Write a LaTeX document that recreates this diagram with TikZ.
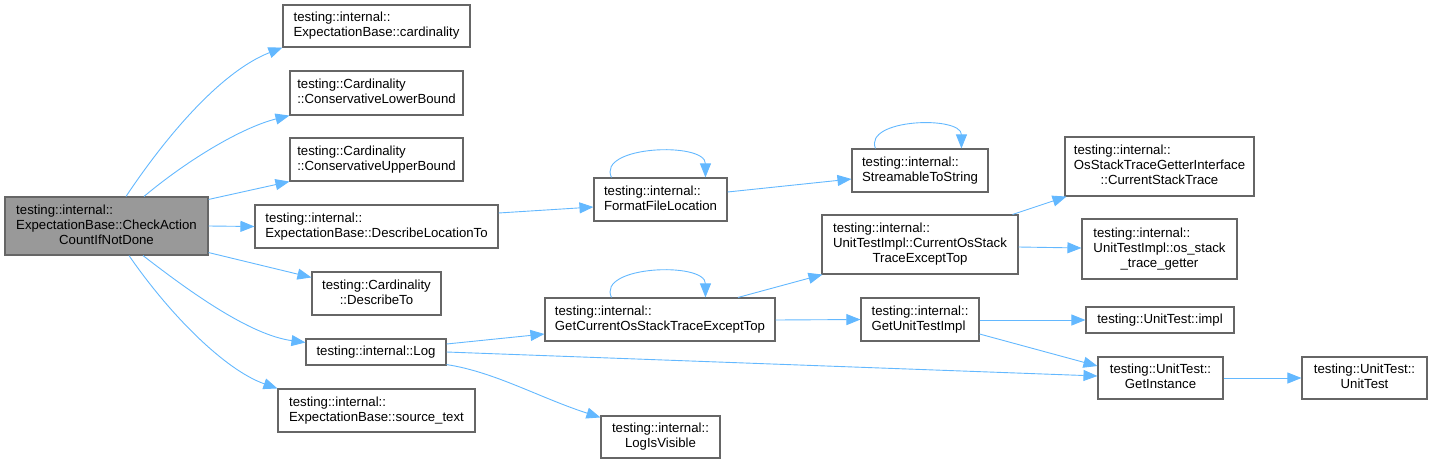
\documentclass[tikz,border=0pt]{standalone}
\usepackage{fontspec}
\setmainfont{Liberation Sans}
\usetikzlibrary{arrows.meta,calc}
\newcommand\ctrline[1]{\multicolumn{1}{@{}c@{}}{#1}}
\newcommand\lines[1]{\begin{tabular}{@{}l@{}}#1\end{tabular}}
\definecolor{edgec}{HTML}{63B8FF}
\definecolor{boxc}{HTML}{666666}
\definecolor{mainfill}{HTML}{999999}
\begin{document}
\begin{tikzpicture}[x=1pt,y=-1pt,
  fn/.style={draw=boxc,line width=1.1pt,fill=white,inner sep=0pt,font=\fontsize{13.2}{15}\selectfont},
  mainfn/.style={fn,fill=mainfill},
  edge/.style={draw=edgec,line width=0.9pt,-{Triangle[length=14pt,width=11pt]}}]
\useasboundingbox (0,0) rectangle (1433,464);
% nodes
\node[mainfn,minimum width=203,minimum height=58] (main) at (106.5,226) {\lines{testing::internal::\\ExpectationBase::CheckAction\\\ctrline{CountIfNotDone}}};
\node[fn,minimum width=187,minimum height=42] (card) at (376.5,26) {\lines{testing::internal::\\ExpectationBase::cardinality}};
\node[fn,minimum width=173,minimum height=44] (lower) at (376.5,93) {\lines{testing::Cardinality\\::ConservativeLowerBound}};
\node[fn,minimum width=173,minimum height=43] (upper) at (376.5,159.5) {\lines{testing::Cardinality\\::ConservativeUpperBound}};
\node[fn,minimum width=243,minimum height=43] (dloc) at (376.5,226.5) {\lines{testing::internal::\\ExpectationBase::DescribeLocationTo}};
\node[fn,minimum width=129,minimum height=43] (dto) at (376.5,293.5) {\lines{testing::Cardinality\\\ctrline{::DescribeTo}}};
\node[fn,minimum width=140,minimum height=26] (log) at (376,352) {testing::internal::Log};
\node[fn,minimum width=197,minimum height=43] (src) at (376.5,410.5) {\lines{testing::internal::\\ExpectationBase::source\_text}};
\node[fn,minimum width=133,minimum height=43] (ffl) at (660.5,199.5) {\lines{testing::internal::\\FormatFileLocation}};
\node[fn,minimum width=230,minimum height=43] (gcos) at (660,319.5) {\lines{testing::internal::\\GetCurrentOsStackTraceExceptTop}};
\node[fn,minimum width=119,minimum height=42] (lvis) at (660.5,437) {\lines{testing::internal::\\\ctrline{LogIsVisible}}};
\node[fn,minimum width=136,minimum height=43] (sts) at (920,170.5) {\lines{testing::internal::\\StreamableToString}};
\node[fn,minimum width=196,minimum height=59] (cost) at (920,244.5) {\lines{testing::internal::\\UnitTestImpl::CurrentOsStack\\\ctrline{TraceExceptTop}}};
\node[fn,minimum width=118,minimum height=43] (gut) at (920,319.5) {\lines{testing::internal::\\GetUnitTestImpl}};
\node[fn,minimum width=189,minimum height=59] (ostg) at (1159.5,166.5) {\lines{testing::internal::\\OsStackTraceGetterInterface\\\ctrline{::CurrentStackTrace}}};
\node[fn,minimum width=155,minimum height=60] (osg) at (1159.5,249) {\lines{testing::internal::\\UnitTestImpl::os\_stack\\\ctrline{\_trace\_getter}}};
\node[fn,minimum width=148,minimum height=26] (impl) at (1160,320) {testing::UnitTest::impl};
\node[fn,minimum width=125,minimum height=42] (ginst) at (1160.5,378) {\lines{testing::UnitTest::\\\ctrline{GetInstance}}};
\node[fn,minimum width=125,minimum height=42] (ut) at (1364.5,378) {\lines{testing::UnitTest::\\\ctrline{UnitTest}}};
% edges from main
\draw[edge] ($(main.north)+(19.5,0)$) .. controls (165,138) and (220,72) .. (card.south west);
\draw[edge] ($(main.north)+(37.5,0)$) .. controls (185,162) and (240,128) .. (lower.south west);
\draw[edge] ($(main.north east)+(0,3)$) -- (upper.south west);
\draw[edge] (main.east) -- (dloc.west);
\draw[edge] ($(main.south east)+(0,-3)$) -- ($(dto.north west)+(0,6)$);
\draw[edge] ($(main.south)+(36.5,0)$) .. controls (190,292) and (250,335) .. ($(log.north west)+(0,4)$);
\draw[edge] ($(main.south)+(22.5,0)$) .. controls (170,315) and (225,370) .. ($(src.north west)+(0,0)$);
% other edges
\draw[edge] ($(dloc.east)+(0,-13.5)$) -- ($(ffl.west)+(0,7.5)$);
\draw[edge] ($(ffl.north west)+(18,0)$) .. controls ($(ffl.north west)+(3,-32)$) and ($(ffl.north west)+(112,-36)$) .. ($(ffl.north west)+(112,0)$);
\draw[edge] ($(ffl.east)+(0,-7.5)$) -- ($(sts.west)+(0,8.5)$);
\draw[edge] ($(sts.north west)+(24,0)$) .. controls ($(sts.north west)+(12,-30)$) and ($(sts.north west)+(110,-33)$) .. ($(sts.north west)+(110,0)$);
\draw[edge] ($(log.east)+(0,-8)$) -- ($(gcos.west)+(0,14.5)$);
\draw[edge] (log.east) -- ($(ginst.west)+(0,-2)$);
\draw[edge] ($(log.south east)+(0,-1)$) .. controls (495,372) and (540,398) .. ($(lvis.north west)+(0,2)$);
\draw[edge] ($(gcos.north west)+(67,0)$) .. controls ($(gcos.north west)+(52,-32)$) and ($(gcos.north west)+(161,-36)$) .. ($(gcos.north west)+(161,0)$);
\draw[edge] ($(gcos.north)+(78,0)$) -- ($(cost.south west)+(1,0)$);
\draw[edge] ($(gcos.east)+(0,0.5)$) -- (gut.west);
\draw[edge] ($(cost.north east)+(-6,0)$) -- ($(ostg.south west)+(2,0)$);
\draw[edge] ($(cost.east)+(0,2.5)$) -- ($(osg.west)+(0,-1)$);
\draw[edge] ($(gut.east)+(0,0.5)$) -- (impl.west);
\draw[edge] ($(gut.east)+(0,14.5)$) -- ($(ginst.west)+(0,-12)$);
\draw[edge] (ginst.east) -- (ut.west);
\end{tikzpicture}
\end{document}
